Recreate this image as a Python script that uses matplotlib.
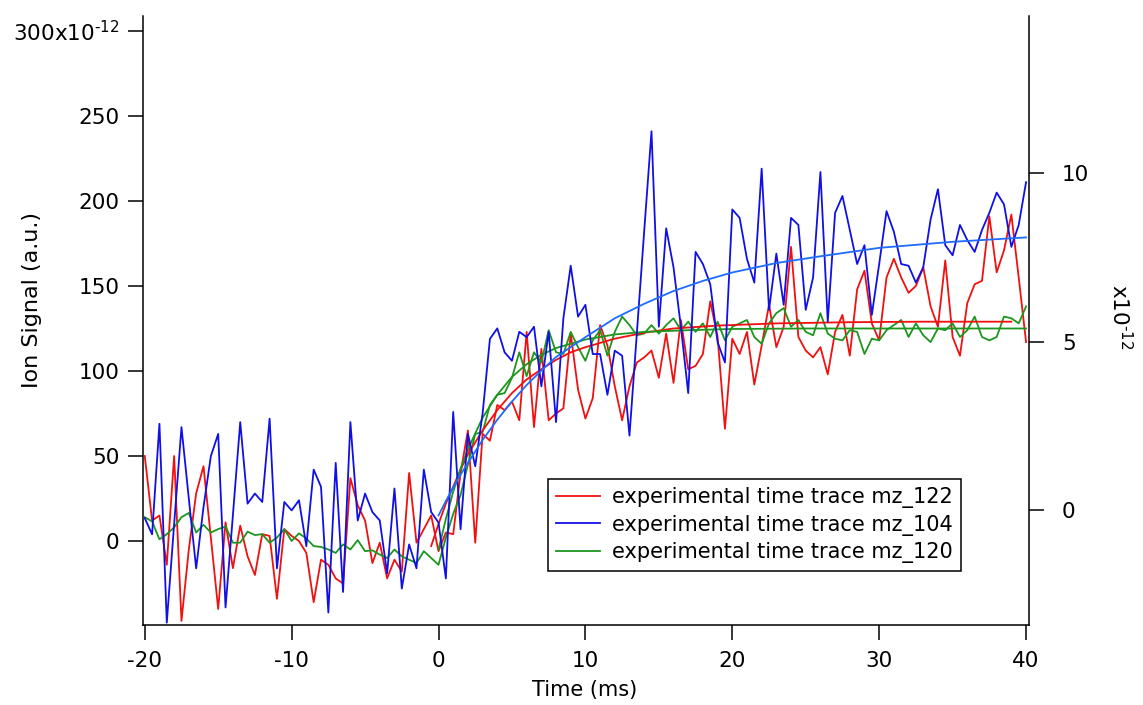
import matplotlib
matplotlib.use('Agg')
import matplotlib.pyplot as plt
import numpy as np

plt.rcParams['font.family'] = 'DejaVu Sans'

# time axis, 0.5 ms steps
time_ms = np.linspace(-20, 40, 121)

# ion signal traces (mz_122 and mz_120 on left axis, mz_104 on right axis x1e-12)
mz122 = [50, 12, 15, -14, 50, -47, -5, 28, 44, 2,
         -40, 11, -16, 9, -9, -20, 4, 3, -34, 7,
         3, 0, -7, -36, -11, -14, -22, -25, 37, 21,
         12, -13, -1, -22, -11, -18, 40, -1, 7, 15,
         -6, 5, 4, 40, 65, -1, 63, 59, 80, 77,
         82, 71, 123, 67, 113, 71, 75, 78, 122, 89,
         72, 84, 127, 115, 91, 71, 91, 105, 108, 112,
         96, 122, 93, 130, 101, 103, 110, 141, 120, 66,
         119, 110, 123, 92, 115, 139, 114, 126, 173, 120,
         112, 108, 114, 98, 123, 133, 109, 148, 159, 128,
         118, 155, 166, 155, 146, 150, 161, 138, 126, 165,
         120, 109, 140, 151, 153, 191, 158, 171, 192, 155,
         117]

mz104 = [-0.24, -0.72, 2.56, -3.34, -0.42, 2.46, 0.34, -1.73, 0.09, 1.60,
         2.26, -2.89, -0.16, 2.61, 0.19, 0.49, 0.24, 2.71, -1.73, 0.24,
         -0.01, 0.29, -1.07, 1.20, 0.69, -3.04, 1.40, -2.43, 2.61, -0.31,
         0.49, -0.06, -0.31, -1.88, 0.64, -2.33, -1.02, -1.73, 1.20, -0.06,
         -0.37, -2.03, 2.91, -0.57, 2.26, 1.30, 2.86, 5.08, 5.39, 4.68,
         4.43, 5.29, 5.13, 5.44, 3.67, 5.29, 2.61, 5.69, 7.25, 5.74,
         6.09, 4.63, 4.63, 3.42, 4.73, 4.58, 2.21, 5.23, 8.26, 11.24,
         5.44, 8.36, 7.20, 5.44, 3.47, 7.66, 7.30, 6.70, 4.98, 4.38,
         8.92, 8.67, 7.45, 6.75, 10.13, 5.94, 7.61, 6.09, 8.67, 8.46,
         5.94, 6.90, 10.03, 5.59, 8.82, 9.32, 8.31, 7.30, 7.86, 5.79,
         7.30, 8.87, 8.26, 7.30, 7.25, 6.75, 7.20, 8.62, 9.52, 7.86,
         7.56, 8.46, 8.01, 7.66, 8.31, 8.82, 9.42, 9.07, 7.81, 8.46,
         9.73]

mz120 = [14, 11.5, 1, 4, 8, 14, 16.5, 5, 9.5, 5,
         7, 8.5, -1, -1, 5.5, 3.5, 4, -1, 2, 7,
         0, 4.5, 1.5, -3, -3.5, -5, -7, -2, -5, 0.5,
         -6, -5.5, -8, -10, -5, -9, -11, -13, -6, -10,
         -14, 2, 16, 27, 45, 63, 64, 80, 86, 87,
         96, 111, 97, 111, 105, 124, 111, 110, 123, 114,
         106, 118, 124, 109, 123, 132, 127, 121, 122, 127,
         122, 127, 131, 124, 129, 123, 128, 120, 129, 118,
         126, 128, 130, 120, 116, 128, 134, 137, 126, 130,
         123, 121, 134, 122, 119, 118, 124, 123, 110, 119,
         118, 124, 127, 130, 120, 128, 121, 117, 125, 124,
         128, 120, 124, 132, 120, 118, 120, 132, 131, 128,
         138]

# fitted curves
fit122_t = [-0.5, 0, 0.5, 1, 1.5, 2, 3, 4, 5, 6, 7, 8, 9, 10, 12, 14, 16, 19, 23, 28, 33, 39]
fit122 = [-3, 10, 22, 32, 42, 51, 65, 77, 87, 95, 101, 106.5, 111, 114, 119, 122.5, 125, 126.7, 128, 128.7, 129, 129]

fit104_t = [0, 0.5, 1, 1.5, 2, 3, 4, 5, 6, 7, 8, 10, 12, 14, 16, 18, 20, 23, 26, 30, 35, 40]
fit104 = [-0.16, 0.27, 0.67, 1.05, 1.40, 2.08, 2.68, 3.22, 3.71, 4.14, 4.54, 5.13, 5.69, 6.12,
          6.50, 6.80, 7.05, 7.33, 7.53, 7.78, 7.96, 8.09]

fit120_t = [0, 0.5, 1, 1.5, 2, 3, 4, 5, 6, 7, 8, 10, 12, 14, 17, 20, 25, 30, 40]
fit120 = [-5, 13, 29, 42.5, 54, 72.5, 86, 96.5, 104, 109.5, 113.5, 118.5, 121.5, 123, 124, 124.7, 125, 125, 125]

left_ticks = [0, 50, 100, 150, 200, 250, 300]
left_labels = ['0', '50', '100', '150', '200', '250', r'300x10$^{\text{-12}}$']
right_ticks = [0, 5, 10]
x_ticks = [-20, -10, 0, 10, 20, 30, 40]

RED = '#f01010'
BLUE = '#1010e6'
GREEN = '#1c961c'
BLUE_FIT = '#1e6cff'

fig = plt.figure(figsize=(11.43, 7.05), dpi=100)
ax = fig.add_axes([0.1251, 0.1135, 0.7749, 0.8638])
ax2 = ax.twinx()

lw = 1.3
l_red, = ax.plot(time_ms, mz122, color=RED, lw=lw)
l_green, = ax.plot(time_ms, mz120, color=GREEN, lw=lw)
ax.plot(fit122_t, fit122, color=RED, lw=lw)
ax.plot(fit120_t, fit120, color=GREEN, lw=lw)
l_blue, = ax2.plot(time_ms, mz104, color=BLUE, lw=lw)
ax2.plot(fit104_t, fit104, color=BLUE_FIT, lw=lw)

ax.set_xlim(-20.12, 40.18)
ax.set_ylim(-49.4, 308.8)
ax2.set_ylim(-3.41, 14.66)

ax.set_xticks(x_ticks)
ax.set_xticklabels([str(v) for v in x_ticks])
ax.set_yticks(left_ticks)
ax.set_yticklabels(left_labels)
ax2.set_yticks(right_ticks)

for s in ['top', 'right']:
    ax.spines[s].set_visible(False)
for s in ['top', 'left', 'bottom']:
    ax2.spines[s].set_visible(False)
for a in (ax, ax2):
    for s in a.spines.values():
        s.set_linewidth(1.1)

ax.tick_params(axis='x', direction='out', length=11, width=1.1, labelsize=15.5, pad=8)
ax.tick_params(axis='y', direction='out', length=11, width=1.1, labelsize=15.5, pad=6)
ax2.tick_params(axis='y', direction='out', length=11, width=1.1, labelsize=15.5, pad=13)

fig.text(585 / 1143, 1 - 690 / 705, 'Time (ms)', ha='center', va='center', fontsize=15)
fig.text(32 / 1143, 1 - 300 / 705, 'Ion Signal (a.u.)', ha='center', va='center',
         rotation=90, fontsize=16)
fig.text(1120 / 1143, 1 - 317 / 705, r'x10$^{\text{-12}}$', ha='center', va='center',
         rotation=-90, fontsize=15.5)

leg = ax2.legend([l_red, l_blue, l_green],
                 ['experimental time trace mz_122',
                  'experimental time trace mz_104',
                  'experimental time trace mz_120'],
                 loc='upper left', bbox_to_anchor=(548 / 1143, 1 - 479 / 705),
                 bbox_transform=fig.transFigure, frameon=True, fancybox=False,
                 edgecolor='black', framealpha=1, fontsize=15, handlelength=2.1,
                 handletextpad=0.55, labelspacing=0.3, borderpad=0.4, borderaxespad=0)
leg.get_frame().set_linewidth(1.1)

fig.savefig('out.png', dpi=100)
